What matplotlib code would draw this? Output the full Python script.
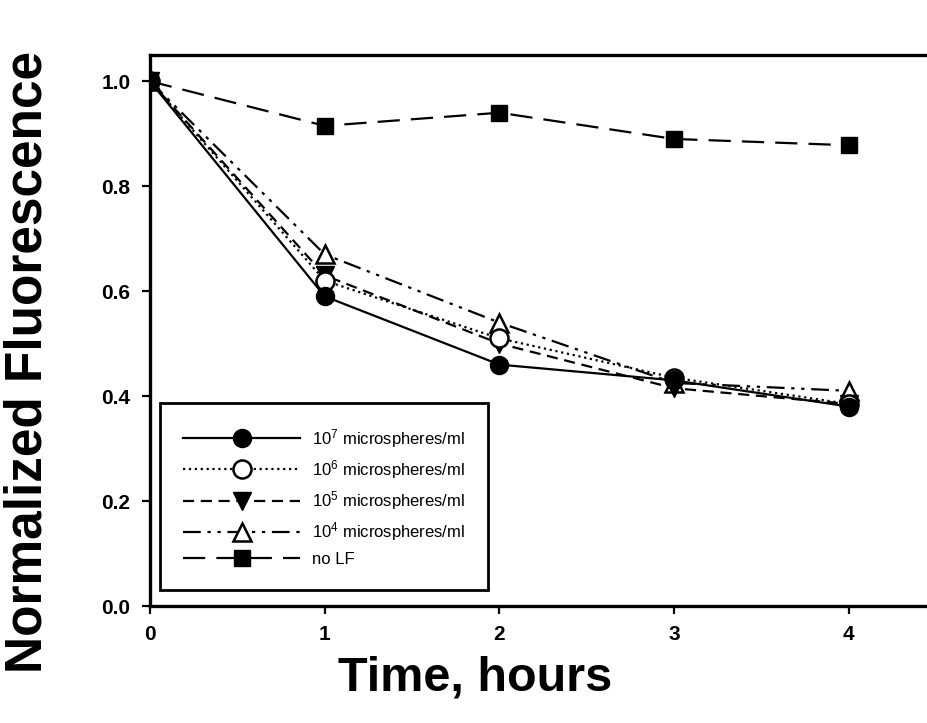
import matplotlib
matplotlib.use('Agg')
import matplotlib.pyplot as plt

# data
hours = [0, 1, 2, 3, 4]
lf_1e7 = [1.0, 0.59, 0.46, 0.43, 0.38]
lf_1e6 = [1.0, 0.62, 0.51, 0.435, 0.385]
lf_1e5 = [1.0, 0.63, 0.50, 0.415, 0.385]
lf_1e4 = [1.0, 0.67, 0.54, 0.425, 0.41]
no_lf = [1.0, 0.915, 0.94, 0.89, 0.878]

labels = ['10$^7$ microspheres/ml', '10$^6$ microspheres/ml',
          '10$^5$ microspheres/ml', '10$^4$ microspheres/ml', 'no LF']

plt.rcParams['font.family'] = ['Liberation Sans', 'DejaVu Sans']
plt.rcParams['mathtext.default'] = 'regular'

fig = plt.figure(figsize=(9.27, 7.23), dpi=100)
ax = fig.add_axes([150 / 927, 117 / 723, 795 / 927, 551 / 723])

lw = 1.6
ms = 13
ax.plot(hours, lf_1e7, '-', color='k', lw=lw, marker='o', ms=ms, mfc='k', mec='k', label=labels[0], zorder=5)
ax.plot(hours, lf_1e6, ':', color='k', lw=lw, marker='o', ms=ms, mfc='white', mec='k', mew=1.8, label=labels[1], zorder=4)
ax.plot(hours, lf_1e5, color='k', lw=lw, dashes=(5, 3), marker='v', ms=ms, mfc='k', mec='k', label=labels[2], zorder=3)
ax.plot(hours, lf_1e4, color='k', lw=lw, dashes=(8, 3, 1.5, 3, 1.5, 3), marker='^', ms=ms, mfc='white', mec='k', mew=1.8, label=labels[3], zorder=2)
ax.plot(hours, no_lf, color='k', lw=lw, dashes=(10, 5), marker='s', ms=ms - 1, mfc='k', mec='k', label=labels[4], zorder=6)

ax.set_xlim(0, 4.55)
ax.set_ylim(0, 1.05)
ax.set_xticks([0, 1, 2, 3, 4])
ax.set_yticks([0.0, 0.2, 0.4, 0.6, 0.8, 1.0])
ax.set_yticklabels(['0.0', '0.2', '0.4', '0.6', '0.8', '1.0'])

for s in ax.spines.values():
    s.set_linewidth(2.4)
ax.tick_params(direction='out', length=6, width=1.6, labelsize=15, pad=8)
for t in ax.get_xticklabels() + ax.get_yticklabels():
    t.set_fontweight('bold')

ax.set_xlabel('Time, hours', fontsize=35, fontweight='bold')
ax.xaxis.set_label_coords((475 - 150) / 795, -0.09)
ax.set_ylabel('Normalized Fluorescence', fontsize=37, fontweight='bold')
ax.yaxis.set_label_coords((53 - 150) / 795, (606 - 362) / 551)

leg = ax.legend(loc='lower left', bbox_to_anchor=(10 / 795, 16 / 551), borderaxespad=0,
                fontsize=12, handlelength=7.0, labelspacing=0.5, borderpad=1.4,
                handletextpad=0.7, fancybox=False, framealpha=1, edgecolor='k')
leg.get_frame().set_linewidth(2.0)

fig.savefig('out.png', dpi=100)
